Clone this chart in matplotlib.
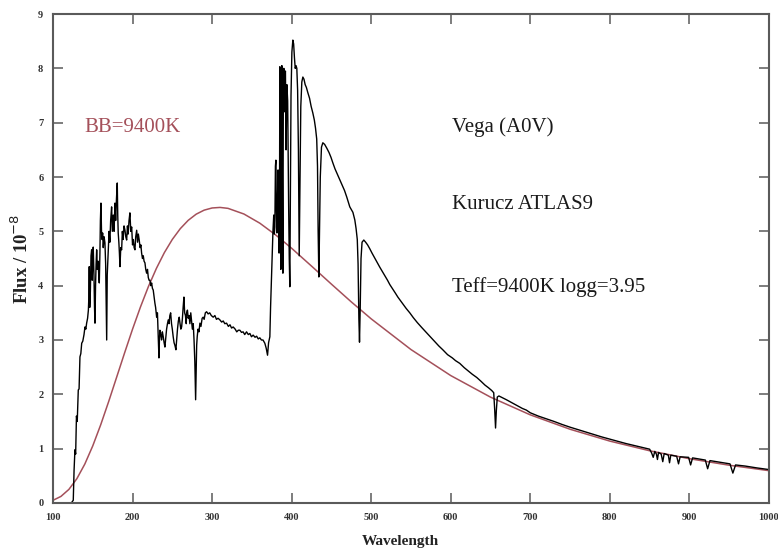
import matplotlib
matplotlib.use("Agg")
import matplotlib.pyplot as plt

# ---------------- data ----------------
# Kurucz ATLAS9 model spectrum of Vega (wavelength in nm, flux / 1e-8)
spec_wl = [100, 123, 125.5, 126.5, 127.6, 128.5, 129.5, 130.5, 131.8, 132.8, 133.9, 135.0,
           136.1, 137.5, 139.0, 140.2, 141.3, 142.3, 143.5, 144.5, 145.0, 145.6, 146.2, 147.0,
           147.8, 148.6, 149.3, 150.0, 150.6, 151.5, 152.2, 152.8, 153.5, 154.2, 154.9, 155.8,
           156.8, 157.5, 158.2, 159.0, 159.6, 160.3, 161.0, 161.7, 162.4, 163.2, 164.2, 165.3,
           166.2, 166.8, 167.5, 168.2, 169.5, 170.5, 171.5, 172.5, 173.7, 174.6, 175.8, 176.8,
           177.9, 178.8, 179.8, 180.8, 181.4, 182.0, 182.8, 183.5, 184.2, 185.2, 186.3, 187.2,
           188.2, 189.3, 190.5, 191.5, 192.6, 193.6, 194.5, 195.6, 196.7, 197.8, 198.9, 200.0,
           201.0, 202.0, 203.0, 204.0, 205.2, 206.3, 207.3, 208.4, 209.5, 210.5, 211.4, 212.5,
           213.5, 214.5, 215.6, 216.6, 217.7, 218.8, 219.8, 220.8, 221.9, 223.0, 224.0, 225.0,
           226.0, 227.0, 228.1, 229.0, 230.3, 231.3, 232.2, 233.2, 233.8, 234.4, 235.5, 236.5,
           237.5, 238.6, 239.7, 240.7, 241.8, 242.8, 243.9, 244.9, 245.9, 246.9, 247.9, 249.0,
           250.0, 251.1, 252.2, 253.3, 254.5, 255.5, 256.5, 257.6, 258.7, 259.7, 260.7, 261.7,
           262.7, 263.6, 264.6, 265.5, 266.5, 267.5, 268.0, 269.0, 270.0, 271.0, 272.1, 273.2,
           274.2, 275.2, 276.3, 277.3, 278.3, 279.3, 280.0, 280.6, 281.3, 282.3, 283.5, 284.7,
           286.0, 287.5, 288.8, 290.0, 291.5, 293.1, 295.0, 297.0, 299.0, 301.4, 303.5, 305.5,
           307.5, 309.8, 312.0, 314.0, 316.0, 318.2, 320.5, 322.5, 324.5, 326.5, 329.0, 331.0,
           333.0, 334.9, 337.0, 339.0, 341.0, 343.3, 345.5, 347.5, 349.5, 351.6, 354.0, 356.0,
           358.0, 360.0, 362.0, 364.0, 366.3, 368.0, 369.7, 371.0, 372.6, 373.5, 374.7, 375.5,
           376.5, 377.5, 378.2, 378.9, 379.6, 380.2, 380.8, 381.5, 382.2, 382.9, 383.5, 384.2,
           384.8, 385.2, 385.8, 386.4, 387.0, 387.7, 388.3, 389.0, 389.6, 390.2, 390.8, 391.5,
           392.2, 393.0, 394.0, 395.0, 396.2, 397.0, 397.7, 398.4, 399.2, 400.3, 401.5, 402.5,
           403.5, 404.5, 405.5, 406.5, 407.5, 408.5, 409.5, 410.5, 411.5, 412.8, 414.1, 415.5,
           417.0, 418.5, 420.4, 422.5, 424.5, 426.6, 428.5, 430.0, 431.5, 432.5, 433.3, 434.2,
           435.0, 436.0, 437.5, 439.2, 441.5, 444.2, 447.0, 449.5, 451.8, 454.5, 457.5, 460.6,
           463.5, 466.5, 469.3, 471.0, 473.1, 475.0, 477.0, 479.4, 481.0, 482.5, 483.5, 484.5,
           485.3, 486.2, 487.2, 488.5, 490.7, 493.0, 495.5, 498.2, 501.0, 504.0, 507.5, 510.8,
           514.0, 517.5, 520.5, 523.4, 527.0, 530.5, 533.5, 536.0, 540.0, 544.0, 548.5, 553.0,
           558.0, 563.5, 569.8, 575.0, 580.0, 585.0, 590.0, 596.0, 602.0, 606.0, 611.3, 617.0,
           622.0, 627.0, 632.7, 638.0, 643.0, 647.5, 651.5, 654.0, 655.3, 656.3, 657.3, 658.5,
           660.5, 666.0, 670.0, 675.0, 680.0, 685.0, 690.0, 695.0, 700.0, 710.0, 720.0, 730.0,
           740.0, 750.0, 760.0, 770.0, 780.0, 790.0, 800.0, 810.0, 820.0, 830.0, 840.0, 850.0,
           852.5, 854.5, 856.5, 858.5, 859.8, 861.2, 864.5, 866.5, 868.3, 873.5, 875.0, 876.6,
           884.0, 886.3, 888.3, 899.0, 901.5, 904.0, 920.0, 922.9, 925.8, 951.0, 954.6, 958.0,
           970.0, 985.0, 1000.0]
spec_flux = [0.00, 0.00, 0.05, 0.60, 0.98, 0.90, 1.60, 1.50, 2.08, 2.10, 2.69, 2.75,
             2.94, 2.98, 3.10, 3.24, 3.20, 3.31, 3.40, 3.55, 3.75, 4.35, 3.60, 3.90,
             4.55, 4.66, 4.10, 4.50, 4.71, 4.20, 3.60, 3.31, 4.00, 4.40, 4.66, 4.30,
             4.45, 4.20, 4.05, 4.60, 5.20, 5.52, 5.00, 4.85, 4.97, 4.70, 4.90, 4.79,
             4.40, 3.70, 3.00, 4.20, 4.66, 5.00, 4.80, 5.20, 5.45, 5.00, 5.30, 5.00,
             5.52, 5.20, 5.60, 5.89, 5.30, 4.97, 4.80, 4.60, 4.35, 4.70, 4.66, 5.00,
             4.85, 5.10, 5.02, 4.90, 4.84, 5.10, 4.95, 5.20, 5.34, 5.00, 5.08, 4.75,
             4.85, 4.70, 4.66, 4.90, 5.02, 4.80, 4.95, 4.84, 4.70, 4.75, 4.60, 4.50,
             4.55, 4.45, 4.42, 4.30, 4.23, 4.30, 4.15, 4.10, 4.10, 4.00, 4.05, 3.95,
             3.92, 3.80, 3.68, 3.60, 3.42, 3.50, 3.10, 2.67, 3.00, 3.18, 3.10, 3.00,
             3.15, 3.06, 2.95, 2.87, 3.05, 3.20, 3.30, 3.37, 3.30, 3.45, 3.50, 3.30,
             3.20, 3.06, 2.95, 2.90, 2.82, 3.00, 3.20, 3.35, 3.42, 3.30, 3.20, 3.24,
             3.40, 3.60, 3.79, 3.50, 3.45, 3.30, 3.50, 3.55, 3.40, 3.45, 3.30, 3.50,
             3.35, 3.20, 3.30, 3.00, 2.60, 1.90, 2.40, 2.90, 3.06, 3.20, 3.15, 3.31,
             3.25, 3.40, 3.42, 3.38, 3.50, 3.52, 3.48, 3.50, 3.45, 3.42, 3.45, 3.38,
             3.40, 3.37, 3.33, 3.35, 3.30, 3.31, 3.25, 3.28, 3.22, 3.24, 3.20, 3.15,
             3.18, 3.18, 3.14, 3.15, 3.10, 3.15, 3.10, 3.12, 3.06, 3.09, 3.05, 3.07,
             3.02, 3.04, 3.00, 3.00, 2.94, 2.85, 2.72, 2.95, 3.06, 3.60, 4.16, 4.50,
             5.00, 5.30, 4.95, 5.08, 6.20, 6.31, 5.40, 4.97, 5.60, 6.13, 5.20, 4.60,
             5.80, 8.03, 7.00, 4.30, 7.50, 8.05, 6.00, 4.23, 7.80, 8.00, 7.20, 7.90,
             7.95, 6.50, 7.70, 7.40, 5.50, 4.50, 3.98, 5.50, 7.50, 8.30, 8.52, 8.45,
             8.20, 8.00, 8.05, 8.00, 7.60, 6.50, 4.55, 6.00, 7.30, 7.75, 7.84, 7.80,
             7.70, 7.65, 7.55, 7.45, 7.30, 7.18, 7.05, 6.90, 6.70, 6.20, 5.00, 4.16,
             5.00, 6.00, 6.55, 6.63, 6.60, 6.53, 6.45, 6.36, 6.26, 6.15, 6.05, 5.95,
             5.85, 5.75, 5.63, 5.55, 5.45, 5.40, 5.35, 5.21, 5.05, 4.85, 4.40, 3.40,
             2.96, 3.60, 4.50, 4.80, 4.84, 4.80, 4.75, 4.68, 4.60, 4.52, 4.43, 4.34,
             4.26, 4.17, 4.10, 4.02, 3.94, 3.86, 3.79, 3.74, 3.66, 3.58, 3.50, 3.41,
             3.32, 3.23, 3.13, 3.05, 2.97, 2.89, 2.82, 2.73, 2.67, 2.62, 2.57, 2.49,
             2.43, 2.37, 2.31, 2.24, 2.17, 2.12, 2.07, 2.03, 1.70, 1.38, 1.70, 1.95,
             1.97, 1.93, 1.90, 1.86, 1.82, 1.78, 1.74, 1.71, 1.66, 1.60, 1.55, 1.50,
             1.445, 1.395, 1.35, 1.305, 1.26, 1.215, 1.175, 1.135, 1.095, 1.06, 1.025, 0.99,
             0.92, 0.84, 0.95, 0.90, 0.80, 0.93, 0.90, 0.76, 0.91, 0.88, 0.74, 0.88,
             0.86, 0.72, 0.85, 0.84, 0.70, 0.83, 0.79, 0.63, 0.78, 0.72, 0.55, 0.70,
             0.68, 0.645, 0.615]

# Black body, T = 9400 K
bb_wl = [100, 110, 120, 130, 140, 150, 160, 170, 180, 190, 200, 210, 220, 230, 240, 250,
         260, 270, 280, 290, 300, 310, 320, 340, 360, 380, 400, 425, 450, 475, 500, 550,
         600, 650, 700, 750, 800, 850, 900, 950, 1000]
bb_flux = [0.049, 0.121, 0.250, 0.447, 0.716, 1.051, 1.440, 1.867, 2.314, 2.762, 3.199,
           3.609, 3.985, 4.318, 4.608, 4.851, 5.049, 5.203, 5.316, 5.390, 5.430, 5.440,
           5.423, 5.319, 5.150, 4.933, 4.688, 4.360, 4.028, 3.701, 3.389, 2.824, 2.345,
           1.948, 1.622, 1.357, 1.139, 0.961, 0.815, 0.695, 0.595]

x_ticks = [100, 200, 300, 400, 500, 600, 700, 800, 900, 1000]
y_ticks = [0, 1, 2, 3, 4, 5, 6, 7, 8, 9]
bb_label = "BB=9400K"
star_labels = ["Vega (A0V)", "Kurucz ATLAS9", "Teff=9400K logg=3.95"]
star_label_y = [6.92, 5.49, 3.98]

# ---------------- figure ----------------
fig = plt.figure(figsize=(7.78, 5.52), dpi=100)
ax = fig.add_axes([0.0681, 0.0888, 0.9203, 0.8858])

bb_color = "#a4505a"
ax.plot(bb_wl, bb_flux, color=bb_color, lw=1.1)
ax.plot(spec_wl, spec_flux, color="black", lw=1.0)

ax.set_xlim(100, 1000)
ax.set_ylim(0, 9)
ax.set_xticks(x_ticks)
ax.set_yticks(y_ticks)

for s in ax.spines.values():
    s.set_color("#5a5a5a")
    s.set_linewidth(1.5)
ax.tick_params(direction="in", length=7, width=1.1, color="#5a5a5a",
               top=True, right=True, labelsize=7.5, labelcolor="#333333", pad=7)
for lab in ax.get_xticklabels() + ax.get_yticklabels():
    lab.set_fontfamily("Liberation Serif")
    lab.set_fontweight("bold")

ax.set_xlabel("Wavelength", fontfamily="Liberation Serif", fontweight="bold",
              fontsize=11, color="#222222", labelpad=8)
ax.xaxis.set_label_coords(0.485, -0.065)
ax.set_ylabel(r"Flux / 10$^{-8}$", fontfamily="Liberation Serif", fontweight="bold",
              fontsize=13.5, color="#222222")
ax.yaxis.set_label_coords(-0.029, 0.5)

txt_font = dict(fontfamily="Liberation Serif", fontsize=15, va="center", ha="left")
ax.text(139, 6.92, bb_label, color=bb_color, **txt_font)
for s, yv in zip(star_labels, star_label_y):
    ax.text(601, yv, s, color="#1a1a1a", **txt_font)

fig.savefig("out.png", dpi=100, facecolor="white")
